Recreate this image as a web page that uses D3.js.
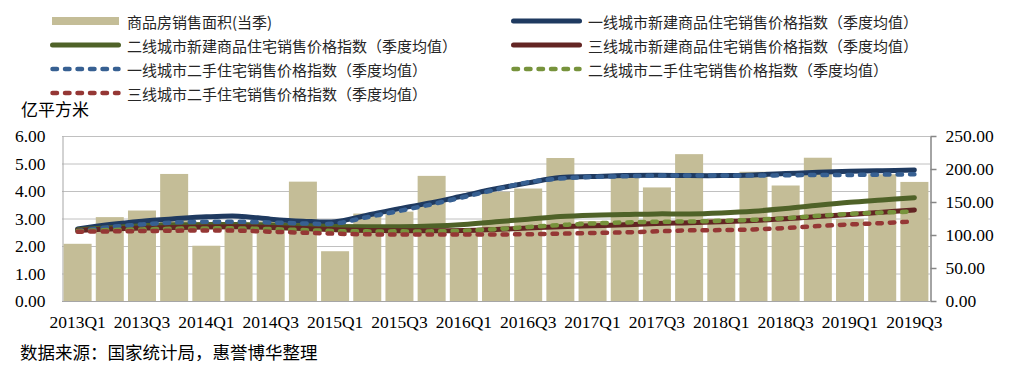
<!DOCTYPE html>
<html>
<head>
<meta charset="utf-8">
<script src="https://cdn.jsdelivr.net/npm/d3@7"></script>
<style>
  body { margin: 0; background: #fff; }
  svg { display: block; }
  .serif text { font-family: "Liberation Serif", "Times New Roman", serif; }
</style>
</head>
<body>
<div id="chart"></div>
<script>

// quarters on the x axis
const quarters = [
    '2013Q1', '2013Q2', '2013Q3', '2013Q4',
    '2014Q1', '2014Q2', '2014Q3', '2014Q4',
    '2015Q1', '2015Q2', '2015Q3', '2015Q4',
    '2016Q1', '2016Q2', '2016Q3', '2016Q4',
    '2017Q1', '2017Q2', '2017Q3', '2017Q4',
    '2018Q1', '2018Q2', '2018Q3', '2018Q4',
    '2019Q1', '2019Q2', '2019Q3'
]

// 商品房销售面积(当季), 亿平方米
const salesArea = [
    2.08, 3.05, 3.29, 4.62,
    2.01, 2.72, 2.90, 4.34,
    1.81, 3.18, 3.25, 4.55,
    2.64, 3.97, 4.09, 5.20,
    2.91, 4.49, 4.13, 5.34,
    3.00, 4.70, 4.20, 5.21,
    2.98, 4.61, 4.33
]

// price indexes (quarterly mean), right axis
const tier1New = [
    109, 116, 121, 124.5, 127.5, 128.5, 124, 121, 120,
    130, 140, 149, 159.5, 170, 179, 187, 188.5, 190,
    190.5, 190, 190, 191, 193, 195, 196.5, 197.5, 198.5
]
const tier2New = [
    108, 111, 114, 115.5, 116, 116, 115, 114, 113,
    112.5, 112.5, 113.5, 116, 120, 124, 128, 130, 131,
    132, 132, 133.5, 136, 140, 145, 149.5, 153, 156.5
]
const tier3New = [
    107, 109, 110.5, 111.5, 112, 112.5, 111.5, 110, 108,
    107, 106.5, 106.5, 107, 108.5, 110.5, 112.5, 114, 115.5,
    117.5, 118.5, 120, 122, 124.5, 128, 131, 134.5, 138
]
const tier1Used = [
    106, 112, 116, 119, 120, 120, 119, 117.5, 117.5,
    127, 136.5, 146.5, 157.5, 169, 180, 185.5, 188, 189,
    190, 190, 190, 190, 190.5, 191, 191, 191.5, 192
]
const tier2Used = [
    106, 107.5, 108.5, 109.5, 110, 110, 109, 107.5, 106,
    105.5, 105.5, 105.5, 106.5, 109, 112, 115, 117.5, 119,
    120, 120.5, 121.5, 123, 125.5, 129, 132, 134, 135.5
]
const tier3Used = [
    105, 105.5, 106, 106.5, 107, 106.5, 105, 103.5, 102,
    101, 100.7, 100.7, 100.7, 100.8, 101.2, 102, 103, 104,
    105.5, 107, 107.5, 108.5, 110.5, 113.5, 116, 118, 120.5
]

const leftTicks = [0, 1, 2, 3, 4, 5, 6]
const rightTicks = [0, 50, 100, 150, 200, 250]

const seriesNames = [
    '一线城市新建商品住宅销售价格指数（季度均值）',
    '二线城市新建商品住宅销售价格指数（季度均值）',
    '三线城市新建商品住宅销售价格指数（季度均值）',
    '一线城市二手住宅销售价格指数（季度均值）',
    '二线城市二手住宅销售价格指数（季度均值）',
    '三线城市二手住宅销售价格指数（季度均值）'
]

const series = [
    { name: seriesNames[0], values: tier1New, color: '#1f3a60', dashed: false },
    { name: seriesNames[1], values: tier2New, color: '#4f6228', dashed: false },
    { name: seriesNames[2], values: tier3New, color: '#632523', dashed: false },
    { name: seriesNames[3], values: tier1Used, color: '#376092', dashed: true },
    { name: seriesNames[4], values: tier2Used, color: '#77933c', dashed: true },
    { name: seriesNames[5], values: tier3Used, color: '#953735', dashed: true }
]

const barColor = '#c4bd97'
const cjk = '"Noto Sans CJK SC", sans-serif'
const dash = '4.5,8'

const dim = { width: 1016, height: 374, left: 62, right: 930, top: 136, bottom: 301 }

const svg = d3.select('#chart')
    .append('svg')
    .attr('width', dim.width)
    .attr('height', dim.height)

svg.append('rect')
    .attr('width', dim.width)
    .attr('height', dim.height)
    .attr('fill', '#fff')

const x = d3.scaleBand()
    .domain(quarters)
    .range([dim.left, dim.right])
    .paddingInner(0.13)
    .paddingOuter(0.05)

const yLeft = d3.scaleLinear().domain([0, 6]).range([dim.bottom, dim.top])
const yRight = d3.scaleLinear().domain([0, 250]).range([dim.bottom, dim.top])

/** Gridlines and the left axis */
function appendLeftAxis() {

    svg.append('g')
        .attr('class', 'grid')
        .selectAll('line')
        .data(leftTicks.filter(d => d > 0))
        .enter()
        .append('line')
        .attr('x1', dim.left)
        .attr('x2', dim.right)
        .attr('y1', d => yLeft(d) + 0.5)
        .attr('y2', d => yLeft(d) + 0.5)
        .attr('stroke', '#c0c0c0')
        .attr('stroke-width', 1)

    svg.append('g')
        .attr('class', 'serif')
        .attr('transform', 'translate(' + (dim.left + 0.5) + ',0)')
        .call(d3.axisLeft(yLeft).tickValues(leftTicks).tickFormat(d3.format('.2f')).tickSize(0).tickPadding(17))
        .call(g => g.select('.domain').attr('stroke', '#a6a6a6'))
        .call(g => g.selectAll('text')
            .attr('font-size', 17.5)
            .attr('fill', '#000'))

    svg.append('text')
        .attr('x', 21)
        .attr('y', 116)
        .attr('font-family', cjk)
        .attr('font-size', 17)
        .attr('fill', '#000')
        .text('亿平方米')
}

/** Right axis with outer ticks */
function appendRightAxis() {

    svg.append('g')
        .attr('class', 'serif')
        .attr('transform', 'translate(' + (dim.right + 0.5) + ',0)')
        .call(d3.axisRight(yRight).tickValues(rightTicks).tickFormat(d3.format('.2f')).tickSize(6).tickSizeOuter(0).tickPadding(9))
        .call(g => g.select('.domain').attr('stroke', '#868686').attr('stroke-width', 1.5))
        .call(g => g.selectAll('line').attr('stroke', '#868686').attr('stroke-width', 1.5))
        .call(g => g.selectAll('text')
            .attr('font-size', 17.5)
            .attr('fill', '#000'))
}

/** Bottom axis, labels every second quarter */
function appendXAxis() {

    svg.append('g')
        .attr('class', 'serif')
        .attr('transform', 'translate(0,' + (dim.bottom + 0.5) + ')')
        .call(d3.axisBottom(x).tickValues(quarters.filter((d, i) => i % 2 === 0)).tickSize(0).tickPadding(14))
        .call(g => g.select('.domain').attr('stroke', '#a6a6a6').attr('d', 'M' + dim.left + ',0H' + dim.right))
        .call(g => g.selectAll('text')
            .attr('font-size', 17.5)
            .attr('fill', '#000'))
}

/** Bars for the sales area */
function appendBars() {

    svg.append('g')
        .attr('class', 'bar')
        .selectAll('rect')
        .data(quarters)
        .enter()
        .append('rect')
        .attr('x', d => x(d))
        .attr('y', (d, i) => yLeft(salesArea[i]))
        .attr('width', x.bandwidth())
        .attr('height', (d, i) => yLeft(0) - yLeft(salesArea[i]))
        .attr('fill', barColor)
}

/** Smoothed lines for the price indexes */
function appendLines() {

    let line = d3.line()
        .x((d, i) => x(quarters[i]) + x.bandwidth() / 2)
        .y(d => yRight(d))
        .curve(d3.curveCatmullRom.alpha(0.5))

    svg.append('g')
        .attr('class', 'lines')
        .selectAll('path')
        .data(series)
        .enter()
        .append('path')
        .attr('d', d => line(d.values))
        .attr('fill', 'none')
        .attr('stroke', d => d.color)
        .attr('stroke-width', d => d.dashed ? 4.5 : 5)
        .attr('stroke-linecap', 'round')
        .attr('stroke-dasharray', d => d.dashed ? dash : null)
}

/** Legend, two columns */
function appendLegend() {

    let items = [{ name: '商品房销售面积(当季)', bar: true }].concat(series)
    let colX = [50, 511]
    let rowY = [21, 45, 69, 93]

    let legend = svg.append('g').attr('class', 'legend')

    items.forEach((d, i) => {
        let cx = colX[i % 2]
        let cy = rowY[Math.floor(i / 2)]

        if (d.bar) {
            legend.append('rect')
                .attr('x', cx + 2)
                .attr('y', cy - 4)
                .attr('width', 67)
                .attr('height', 8)
                .attr('fill', barColor)
        } else {
            legend.append('line')
                .attr('x1', cx + 2.5)
                .attr('x2', cx + 68.5)
                .attr('y1', cy)
                .attr('y2', cy)
                .attr('stroke', d.color)
                .attr('stroke-width', d.dashed ? 4.5 : 5)
                .attr('stroke-linecap', 'round')
                .attr('stroke-dasharray', d.dashed ? dash : null)
        }

        legend.append('text')
            .attr('x', cx + 77)
            .attr('y', cy)
            .attr('dominant-baseline', 'central')
            .attr('font-family', cjk)
            .attr('font-size', 15)
            .attr('fill', '#262626')
            .text(d.name)
    })
}

appendLeftAxis()
appendBars()
appendRightAxis()
appendXAxis()
appendLines()
appendLegend()

svg.append('text')
    .attr('x', 20)
    .attr('y', 359)
    .attr('font-family', cjk)
    .attr('font-size', 17.5)
    .attr('fill', '#000')
    .text('数据来源：国家统计局，惠誉博华整理')

</script>
</body>
</html>
